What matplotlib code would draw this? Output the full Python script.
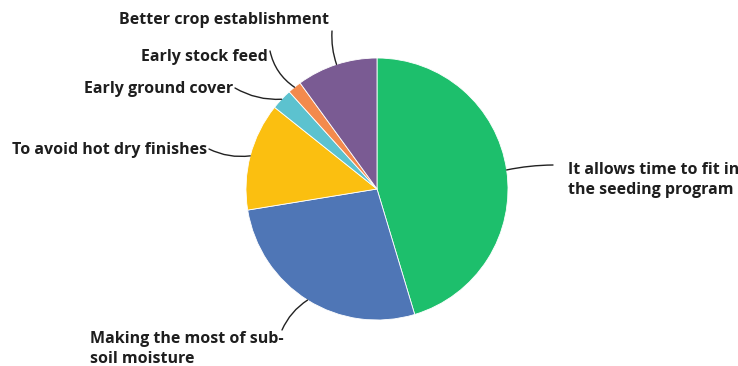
import numpy as np
import matplotlib.pyplot as plt

labels = ["It allows time to fit in\nthe seeding program",
          "Making the most of sub-\nsoil moisture",
          "To avoid hot dry finishes",
          "Early ground cover",
          "Early stock feed",
          "Better crop establishment"]
shares = [45.4, 27.1, 13.3, 2.6, 1.7, 10.0]
colors = ["#1dbf6c", "#4f76b6", "#fbbf10", "#5cc2cf", "#f38a4d", "#7a5b93"]

# where each label sits (pixel coords, y down) and how it is anchored
label_pos = [(568, 180), (90, 349), (207, 150), (233, 89), (268, 57), (224, 20)]
label_ha = ["left", "left", "right", "right", "right", "center"]
leader_start = [(553, 165), (282, 330), (209, 149), (235, 88), (270, 51), (332, 31)]
leader_rad = [0.05, -0.15, 0.15, 0.15, 0.2, 0.1]

W, H = 738, 366
cx, cy, r = 377, 189, 131

fig = plt.figure(figsize=(W / 100, H / 100), dpi=100)
ax = fig.add_axes([0, 0, 1, 1])

wedges, _ = ax.pie(shares, colors=colors, startangle=90, counterclock=False,
                   center=(cx, H - cy), radius=r,
                   wedgeprops=dict(edgecolor="white", linewidth=0.6))
ax.set_xlim(0, W)
ax.set_ylim(0, H)
ax.set_aspect("equal")
ax.axis("off")

for w, lab, (tx, ty), ha, (sx, sy), rad in zip(wedges, labels, label_pos, label_ha,
                                              leader_start, leader_rad):
    ang = np.deg2rad((w.theta1 + w.theta2) / 2)
    ex = cx + r * np.cos(ang)
    ey = (H - cy) + r * np.sin(ang)
    ax.annotate("", xy=(ex, ey), xytext=(sx, H - sy),
                arrowprops=dict(arrowstyle="-", color="#222222", lw=1.0,
                                connectionstyle=f"arc3,rad={rad}", shrinkA=0, shrinkB=0))
    ax.text(tx, H - ty, lab, ha=ha, va="center", fontsize=11.5, fontweight="bold",
            family="Open Sans", color="#1e1e1e", linespacing=1.3)

fig.savefig("out.png", dpi=100, facecolor="white")
